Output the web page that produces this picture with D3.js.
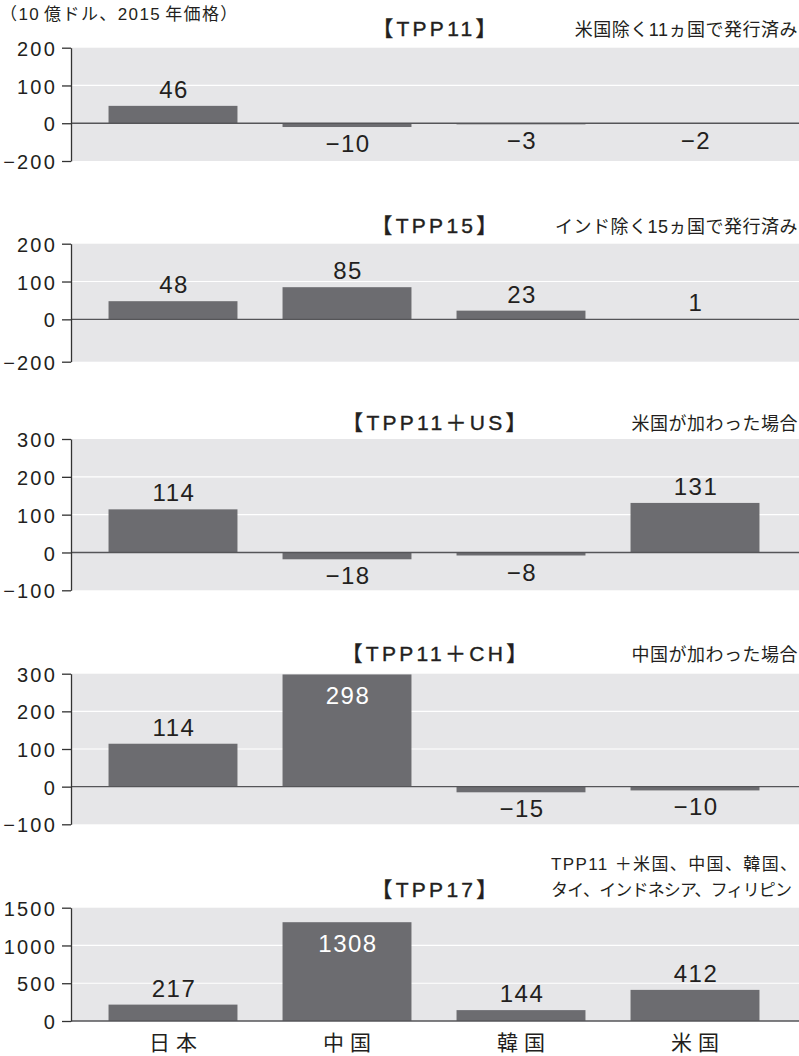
<!DOCTYPE html>
<html><head><meta charset="utf-8">
<script src="https://cdn.jsdelivr.net/npm/d3@7"></script>
<style>body{margin:0;background:#fff}</style>
</head><body>
<svg id="chart" width="799" height="1056"></svg>
<script>
// ---- data ----
const categories = ["日本", "中国", "韓国", "米国"];
const panelTitles = ["【TPP11】", "【TPP15】", "【TPP11＋US】", "【TPP11＋CH】", "【TPP17】"];
const panelNotes = [
  ["米国除く11ヵ国で発行済み"],
  ["インド除く15ヵ国で発行済み"],
  ["米国が加わった場合"],
  ["中国が加わった場合"],
  ["TPP11 ＋米国、中国、韓国、", "タイ、インドネシア、フィリピン"]
];
const tpp11 = [46, -10, -3, -2];
const tpp15 = [48, 85, 23, 1];
const tpp11us = [114, -18, -8, 131];
const tpp11ch = [114, 298, -15, -10];
const tpp17 = [217, 1308, 144, 412];
const tickValues = [
  [200, 100, 0, -100],
  [200, 100, 0, -112],
  [300, 200, 100, 0, -100],
  [300, 200, 100, 0, -100],
  [1500, 1000, 500, 0]
];
const tickLabels = [
  ["200", "100", "0", "−200"],
  ["200", "100", "0", "−200"],
  ["300", "200", "100", "0", "−100"],
  ["300", "200", "100", "0", "−100"],
  ["1500", "1000", "500", "0"]
];
const unitNoteParts = ["（10", "億ドル、2015", "年価格）"];

// ---- layout ----
const series = [tpp11, tpp15, tpp11us, tpp11ch, tpp17];
const layout = [
  {top: 47.7, bottom: 161, titleY: 36},
  {top: 243.7, bottom: 361.7, titleY: 233},
  {top: 439, bottom: 590.3, titleY: 430},
  {top: 673.7, bottom: 824.3, titleY: 661},
  {top: 907.7, bottom: 1021, titleY: 897}
];
const multiNoteWidths = [246, 241];
const FONT = "'Liberation Sans','Noto Sans CJK JP',sans-serif";
const JFONT = "'Noto Sans CJK JP',sans-serif";
const plotLeft = 71, plotRight = 799;
const BG = "#e6e6e8", BAR = "#6c6c70", TXT = "#231f20";

const svg = d3.select("#chart");
const x = d3.scaleBand().domain(categories).range([86, 782])
  .paddingInner(0.259).paddingOuter(0.1295);
const fmt = d3.format("d");

// unit note
const note = svg.append("text").attr("x", 0).attr("y", 20)
  .attr("font-family", FONT).attr("font-size", 17).attr("fill", TXT)
  .attr("letter-spacing", 1.4);
note.selectAll("tspan").data(unitNoteParts).join("tspan")
  .attr("dx", (d, i) => i === 0 ? 0 : 4).text(d => d);

series.forEach((vals, i) => {
  const L = layout[i];
  const tv = tickValues[i];
  const y = d3.scaleLinear().domain(d3.extent(tv)).range([L.bottom, L.top]);
  const g = svg.append("g");

  g.append("rect").attr("x", plotLeft).attr("y", L.top)
    .attr("width", plotRight - plotLeft).attr("height", L.bottom - L.top)
    .attr("fill", BG);

  const inner = tv.filter(v => v !== 0 && v !== d3.min(tv) && v !== d3.max(tv));
  g.selectAll(".grid").data(inner).join("line").attr("class", "grid")
    .attr("x1", plotLeft).attr("x2", plotRight)
    .attr("y1", d => y(d)).attr("y2", d => y(d))
    .attr("stroke", "#fff").attr("stroke-width", 1.2);

  g.selectAll(".bar").data(vals).join("rect").attr("class", "bar")
    .attr("x", (d, j) => x(categories[j]))
    .attr("width", x.bandwidth())
    .attr("y", d => y(Math.max(0, d)))
    .attr("height", d => Math.abs(y(d) - y(0)))
    .attr("fill", BAR);

  g.append("line").attr("x1", plotLeft).attr("x2", plotRight)
    .attr("y1", y(0)).attr("y2", y(0))
    .attr("stroke", "#555558").attr("stroke-width", 1.3);

  const axis = d3.axisLeft(y).tickValues(tv)
    .tickFormat((d, k) => tickLabels[i][k])
    .tickSize(9).tickSizeOuter(0).tickPadding(5);
  const ag = g.append("g").attr("transform", `translate(${plotLeft},0)`).call(axis);
  ag.select(".domain").attr("stroke", "#333").attr("stroke-width", 1.3);
  ag.selectAll(".tick line").attr("stroke", "#333").attr("stroke-width", 1.3);
  ag.selectAll(".tick text").attr("font-family", FONT).attr("font-size", 20)
    .attr("fill", TXT).attr("letter-spacing", 2.2).attr("dy", "0.38em");

  // value labels
  g.selectAll(".val").data(vals).join("text").attr("class", "val")
    .each(function (d, j) {
      const yt = y(Math.max(0, d)), yb = y(Math.min(0, d));
      const inside = d > 0 && yt - 25 < L.top;
      d3.select(this)
        .attr("x", x(categories[j]) + x.bandwidth() / 2 + 1)
        .attr("y", inside ? yt + 30 : (d >= 0 ? yt - 8 : yb + 25))
        .attr("fill", inside ? "#fff" : TXT);
    })
    .attr("text-anchor", "middle").attr("font-family", FONT)
    .attr("font-size", 24).attr("letter-spacing", 1.5)
    .text(d => fmt(d));

  // title
  g.append("text").attr("x", 436).attr("y", L.titleY)
    .attr("text-anchor", "middle").attr("font-family", FONT)
    .attr("font-size", 21).attr("font-weight", "normal")
    .attr("stroke", TXT).attr("stroke-width", 0.4)
    .attr("letter-spacing", 3.3).attr("fill", TXT)
    .text(panelTitles[i]);

  // notes
  const notes = panelNotes[i];
  const multi = notes.length > 1;
  const nt = g.selectAll(".note").data(notes).join("text").attr("class", "note")
    .attr("x", multi ? 551 : 798)
    .attr("y", (d, k) => multi ? 870 + k * 26 : L.titleY)
    .attr("text-anchor", multi ? "start" : "end").attr("font-family", FONT)
    .attr("font-size", multi ? 17 : 18)
    .attr("letter-spacing", multi ? null : 0.5)
    .attr("fill", TXT)
    .text(d => d);
  if (multi) {
    nt.attr("textLength", (d, k) => multiNoteWidths[k]).attr("lengthAdjust", "spacing");
  }
});

// x category labels
svg.selectAll(".cat").data(categories).join("text").attr("class", "cat")
  .attr("x", d => x(d) + x.bandwidth() / 2 + 3)
  .attr("y", 1050)
  .attr("text-anchor", "middle").attr("font-family", JFONT)
  .attr("font-size", 21).attr("letter-spacing", 6).attr("fill", TXT)
  .text(d => d);
</script>
</body></html>
